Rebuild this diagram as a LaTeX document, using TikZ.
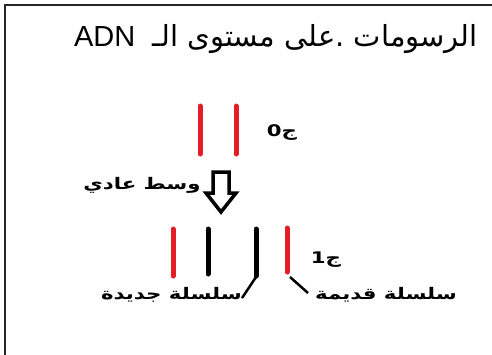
\documentclass[tikz,border=0pt]{standalone}
\usepackage{fontspec}
\setmainfont{Liberation Sans}
\newfontfamily\arabicfont[Script=Arabic]{DejaVu Sans}
\newfontfamily\arabicwide[Script=Arabic,FakeStretch=1.33]{DejaVu Sans}
\TeXXeTstate=1
\definecolor{strandred}{RGB}{228,30,38}
\tikzset{
  frame/.style={line width=2pt, draw=black!85},
  oldstrand/.style={line width=5pt, draw=strandred, line cap=round},
  newstrand/.style={line width=5pt, draw=black, line cap=round},
  pointer/.style={line width=2.5pt, draw=black},
  lbl/.style={inner sep=0pt, font=\arabicwide\bfseries\fontsize{16}{18}\selectfont},
  bigarrow/.style={line width=3.5pt, draw=black, fill=white, line join=miter}
}
\begin{document}
\begin{tikzpicture}[x=1pt,y=-1pt]
\useasboundingbox (0,0) rectangle (492,354);
% frame
\coordinate (ftl) at (5,5);
\coordinate (ftr) at (493,5);
\coordinate (fbl) at (5,355);
\draw[frame] (fbl) -- (ftl) -- (ftr);
% title
\node[inner sep=0pt, anchor=base east] (title) at (478,46)
  {\fontsize{29}{33}\selectfont\arabicfont\beginR الرسومات .على مستوى الـ\hspace{0.6em}\beginL{\rmfamily ADN}\endL\endR};
% generation 0
\coordinate (a1t) at (200,106); \coordinate (a1b) at (200,154);
\coordinate (a2t) at (236,106); \coordinate (a2b) at (236,154);
\draw[oldstrand] (a1t) -- (a1b);
\draw[oldstrand] (a2t) -- (a2b);
\node[lbl] (g0) at (282,133) {\beginR ج0\endR};
% arrow
\draw[bigarrow] (213,172) -- (229,172) -- (229,193) -- (236,193) -- (221,212) -- (206,193) -- (213,193) -- cycle;
\node[lbl] (medium) at (142,185) {\beginR وسط عادي\endR};
% generation 1
\coordinate (b1t) at (173,229); \coordinate (b1b) at (173,276);
\coordinate (b2t) at (208,229); \coordinate (b2b) at (208,274);
\coordinate (b3t) at (256,229); \coordinate (b3b) at (256,276);
\coordinate (b4t) at (287,228); \coordinate (b4b) at (287,272);
\draw[oldstrand] (b1t) -- (b1b);
\draw[newstrand] (b2t) -- (b2b);
\draw[newstrand] (b3t) -- (b3b);
\draw[oldstrand] (b4t) -- (b4b);
\node[lbl] (g1) at (326,260) {\beginR ج1\endR};
\node[lbl, anchor=east] (newl) at (242,295) {\beginR سلسلة جديدة\endR};
\node[lbl, anchor=west] (oldl) at (315,295) {\beginR سلسلة قديمة\endR};
\coordinate (p1) at (242,298);
\coordinate (p2) at (308,293);
\draw[pointer] (256,277) -- (p1);
\draw[pointer] (290,277) -- (p2);
\end{tikzpicture}
\end{document}
